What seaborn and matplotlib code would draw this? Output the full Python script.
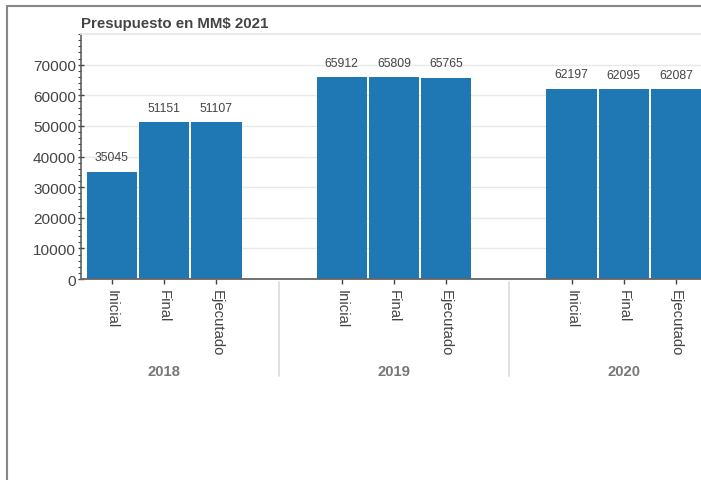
import numpy as np
import pandas as pd
import seaborn as sns
import matplotlib.pyplot as plt
import matplotlib.transforms as mtransforms
from matplotlib.lines import Line2D
from matplotlib.ticker import MultipleLocator

years = ["2018", "2019", "2020"]
stages = ["Inicial", "Final", "Ejecutado"]
inicial = [35045, 65912, 62197]
final = [51151, 65809, 62095]
ejecutado = [51107, 65765, 62087]

sns.set_theme(style="white")
plt.rcParams["font.family"] = ["Liberation Sans", "DejaVu Sans"]

# nested factor positions, bokeh style (1.4 padding between groups)
group_gap = 1.4
step = len(stages) + group_gap
rows = []
for i, year in enumerate(years):
    for j, vals in enumerate([inicial, final, ejecutado]):
        rows.append({"year": year, "stage": stages[j], "value": vals[i],
                     "pos": round(i * step + j, 3)})
df = pd.DataFrame(rows)

fig = plt.figure(figsize=(7.01, 4.81), dpi=100)
ax = fig.add_axes([81 / 701, 1 - 280 / 481, 620 / 701, 245 / 481])

sns.barplot(data=df, x="pos", y="value", native_scale=True, width=0.96,
            color="#1f77b4", saturation=1, errorbar=None, linewidth=0, ax=ax)

ax.bar_label(ax.containers[0], labels=df["value"].astype(str), padding=6,
             fontsize=8.8, color="#444444")

ax.set_xlim(df["pos"].min() - 0.594, df["pos"].max() + 0.48)
ax.set_ylim(0, 80000)
ax.set_yticks(np.arange(0, 70001, 10000))
ax.yaxis.set_minor_locator(MultipleLocator(2000))
ax.set_xticks(df["pos"])
ax.set_xticklabels(df["stage"], rotation=-90, va="top", ha="center")
ax.set_xlabel("")
ax.set_ylabel("")

ax.tick_params(axis="y", which="major", direction="inout", length=5, width=1,
               color="#444444", labelsize=11.1, labelcolor="#444444", pad=1, left=True)
ax.tick_params(axis="y", which="minor", direction="out", length=2.5, width=0.8,
               color="#444444", left=True)
ax.tick_params(axis="x", which="major", direction="out", length=3.6, width=1,
               color="#444444", labelsize=10.7, labelcolor="#444444", pad=3.6, bottom=True)

ax.yaxis.grid(True, color="#e8e8e8", lw=1)
ax.set_axisbelow(True)
for side in ["right"]:
    ax.spines[side].set_visible(False)
ax.spines["top"].set_color("#e8e8e8")
ax.spines["left"].set_color("#555555")
ax.spines["bottom"].set_color("#666666")
ax.spines["left"].set_linewidth(1.1)
ax.spines["bottom"].set_linewidth(1.3)

trans = mtransforms.blended_transform_factory(ax.transData, ax.transAxes)
centers = df.groupby("year", sort=False)["pos"].mean()
for year, cx in centers.items():
    ax.text(cx, -0.376, year, transform=trans, ha="center", va="center",
            fontweight="bold", fontsize=10.7, color="#777777")

ends = df.groupby("year", sort=False)["pos"].agg(["min", "max"]).values
for k in range(len(ends) - 1):
    sx = (ends[k][1] + ends[k + 1][0]) / 2
    ax.plot([sx, sx], [-0.012, -0.396], transform=trans, clip_on=False,
            color="#dddddd", lw=1.3)

ax.set_title("Presupuesto en MM$ 2021", loc="left", fontweight="bold",
             fontsize=10.8, color="#444444", pad=5)

# outer frame of the exported panel
fig.add_artist(Line2D([6.5 / 701, 6.5 / 701], [0, 1 - 6.5 / 481],
                      transform=fig.transFigure, color="#888888", lw=1.5))
fig.add_artist(Line2D([6.5 / 701, 1], [1 - 6.5 / 481, 1 - 6.5 / 481],
                      transform=fig.transFigure, color="#888888", lw=1.5))

fig.savefig("out.png", dpi=100)
